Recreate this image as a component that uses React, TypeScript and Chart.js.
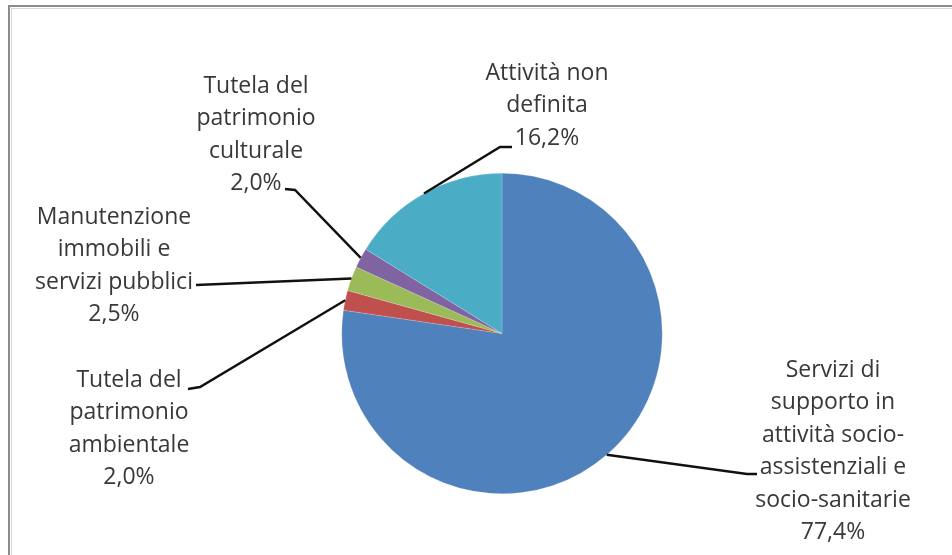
import React, { useEffect, useRef } from "react";
import { Chart, registerables } from "chart.js";

Chart.register(...registerables);

const categories: string[][] = [
  ["Servizi di", "supporto in", "attività socio-", "assistenziali e", "socio-sanitarie"],
  ["Tutela del", "patrimonio", "ambientale"],
  ["Manutenzione", "immobili e", "servizi pubblici"],
  ["Tutela del", "patrimonio", "culturale"],
  ["Attività non", "definita"],
];
const values: number[] = [77.4, 2.0, 2.5, 2.0, 16.2];
const colors: string[] = ["#4F81BD", "#C0504D", "#9BBB59", "#8064A2", "#4BACC6"];

// label placement relative to pie centre: text centre x, first line y, leader path points
const labelLayout = [
  { dx: 331, dy: 36.5, path: [[255, 140.5], [245, 140.5]] },
  { dx: -373, dy: 46.5, path: [[-314, 55.5], [-302, 53.5]] },
  { dx: -388, dy: -116.5, path: [[-306, -48.5]] },
  { dx: -246, dy: -247.5, path: [[-217, -144.5], [-207, -143.5]] },
  { dx: 45, dy: -260.5, path: [[10, -186.5], [-2, -186.5]] },
];

const FONT = '23px "Open Sans", "Noto Sans", sans-serif';
const LINE_H = 32.5;

const fmt = (v: number) => v.toFixed(1).replace(".", ",") + "%";

const labelPlugin = {
  id: "pieLabels",
  afterDraw(chart: any) {
    const ctx = chart.ctx as CanvasRenderingContext2D;
    const meta = chart.getDatasetMeta(0);
    ctx.save();
    // frame
    ctx.strokeStyle = "#8c8c8c";
    ctx.lineWidth = 2;
    ctx.beginPath();
    ctx.moveTo(9, 555);
    ctx.lineTo(9, 6);
    ctx.lineTo(952, 6);
    ctx.stroke();
    ctx.strokeStyle = "#d8d8d8";
    ctx.lineWidth = 1;
    ctx.beginPath();
    ctx.moveTo(11.5, 555);
    ctx.lineTo(11.5, 8.5);
    ctx.lineTo(952, 8.5);
    ctx.stroke();

    meta.data.forEach((arc: any, i: number) => {
      const { x: cx, y: cy, startAngle, endAngle, outerRadius } = arc.getProps(
        ["x", "y", "startAngle", "endAngle", "outerRadius"],
        true
      );
      const mid = (startAngle + endAngle) / 2;
      const ex = cx + Math.cos(mid) * outerRadius;
      const ey = cy + Math.sin(mid) * outerRadius;
      const lay = labelLayout[i];
      // leader
      ctx.strokeStyle = "#111111";
      ctx.lineWidth = 2.4;
      ctx.beginPath();
      lay.path.forEach((p, k) => {
        if (k === 0) ctx.moveTo(cx + p[0], cy + p[1]);
        else ctx.lineTo(cx + p[0], cy + p[1]);
      });
      ctx.lineTo(ex, ey);
      ctx.stroke();
      // text
      const lines = [...categories[i], fmt(values[i])];
      ctx.fillStyle = "#383838";
      ctx.font = FONT;
      ctx.textAlign = "center";
      ctx.textBaseline = "middle";
      lines.forEach((t, k) => {
        ctx.fillText(t, cx + lay.dx, cy + lay.dy + k * LINE_H);
      });
    });
    ctx.restore();
  },
};

export default function App() {
  const ref = useRef<HTMLCanvasElement | null>(null);
  useEffect(() => {
    if (!ref.current) return;
    const chart = new Chart(ref.current, {
      type: "pie",
      data: {
        labels: categories,
        datasets: [
          {
            data: values,
            backgroundColor: colors,
            borderColor: "rgba(255,255,255,0.35)",
            borderWidth: 0.5,
          },
        ],
      },
      options: {
        responsive: false,
        devicePixelRatio: 1,
        animation: false,
        layout: { padding: { left: 341, right: 289, top: 173, bottom: 61 } },
        plugins: {
          legend: { display: false },
          tooltip: { enabled: false },
          title: { display: false },
        },
      },
      plugins: [labelPlugin],
    });
    return () => chart.destroy();
  }, []);
  return (
    <div style={{ position: "fixed", left: 0, top: 0, width: 952, height: 555, background: "#fff" }}>
      <canvas ref={ref} width={952} height={555} style={{ width: 952, height: 555, display: "block" }} />
    </div>
  );
}
